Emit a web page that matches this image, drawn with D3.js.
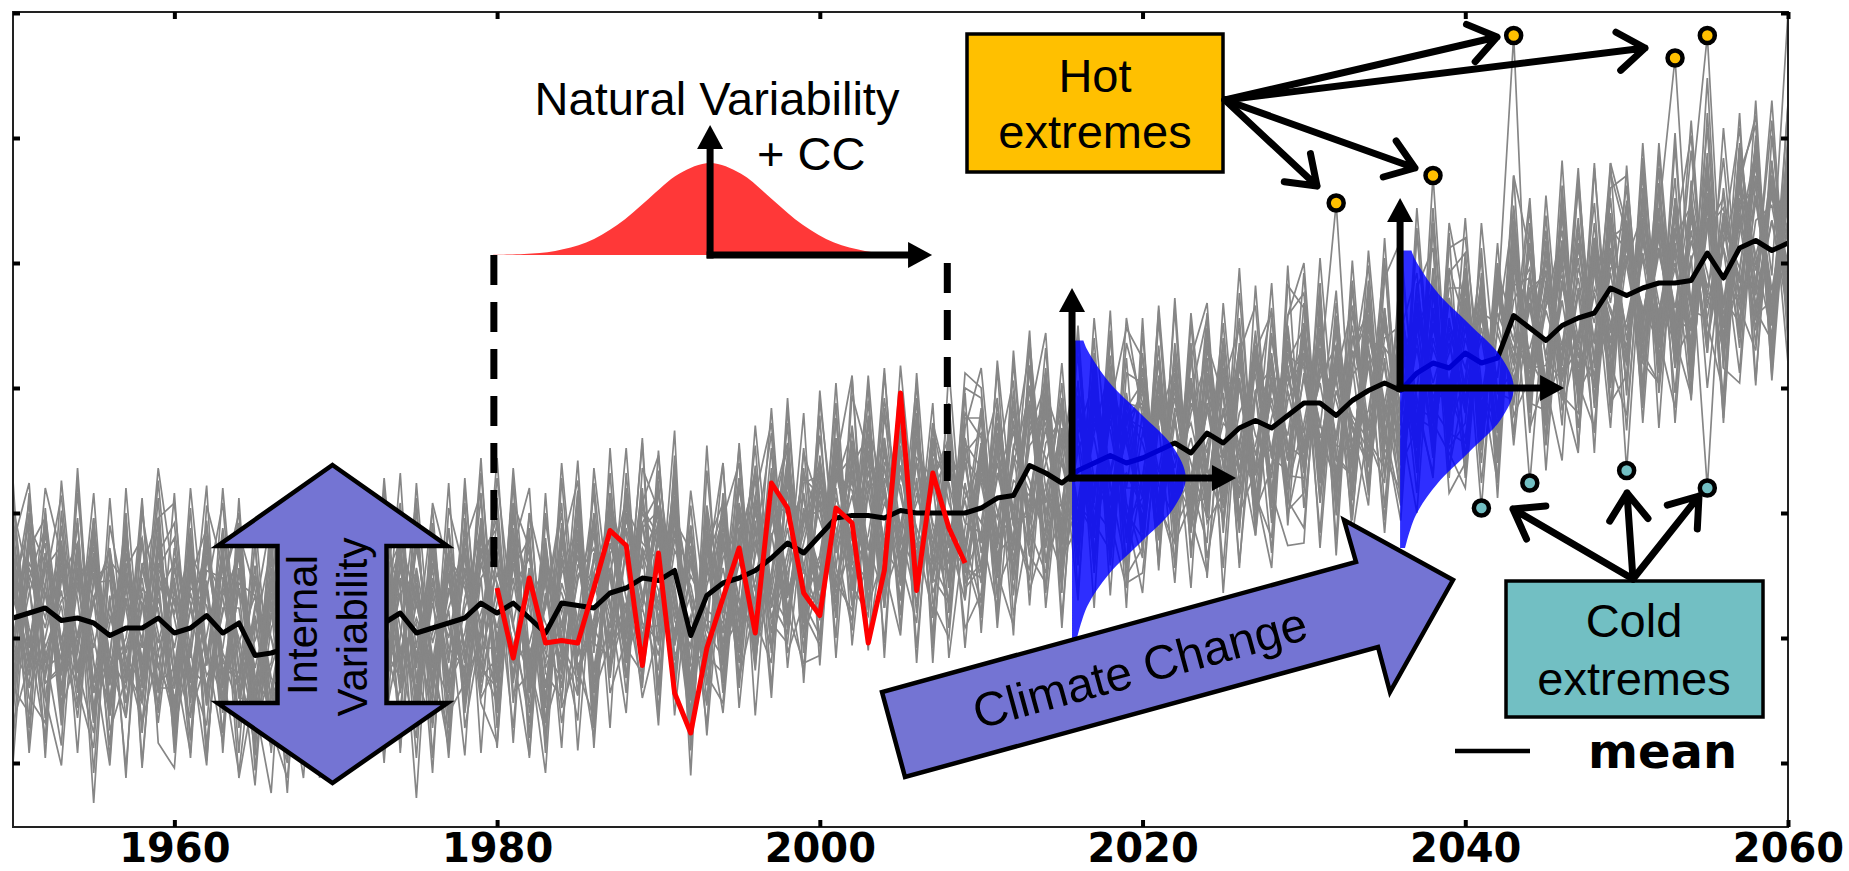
<!DOCTYPE html>
<html>
<head>
<meta charset="utf-8">
<script src="https://cdn.jsdelivr.net/npm/d3@7"></script>
<style>
  body { margin: 0; background: #fff; }
  svg { display: block; }
</style>
</head>
<body>
<script>
// years shown on the time axis
const years = d3.range(1950, 2061);
const xTicks = [1960, 1980, 2000, 2020, 2040, 2060];
const yTicks = [-1.5, -1, -0.5, 0, 0.5, 1, 1.5];

// ensemble mean (black line), one value per year 1950..2060
const ensembleMean = [
  -0.92,-0.90,-0.88,-0.93,-0.92,-0.94,-0.99,-0.96,-0.96,-0.92,
  -0.98,-0.96,-0.91,-0.98,-0.94,-1.07,-1.06,-1.04,-1.02,-1.00,
  -0.97,-0.98,-0.95,-0.94,-0.90,-0.98,-0.96,-0.94,-0.92,-0.86,
  -0.90,-0.86,-0.92,-0.98,-0.86,-0.87,-0.88,-0.82,-0.80,-0.76,
  -0.77,-0.73,-0.99,-0.83,-0.78,-0.76,-0.73,-0.68,-0.62,-0.66,
  -0.59,-0.52,-0.51,-0.51,-0.52,-0.49,-0.50,-0.50,-0.50,-0.50,
  -0.48,-0.44,-0.43,-0.31,-0.34,-0.38,-0.33,-0.30,-0.27,-0.30,
  -0.28,-0.25,-0.22,-0.26,-0.18,-0.22,-0.16,-0.13,-0.16,-0.11,
  -0.06,-0.06,-0.11,-0.05,-0.01,0.02,-0.01,0.06,0.10,0.08,
  0.14,0.10,0.12,0.29,0.24,0.19,0.25,0.28,0.30,0.40,
  0.37,0.40,0.42,0.42,0.43,0.54,0.44,0.56,0.59,0.55,0.58
];

// one realisation highlighted in red, 1980..2009
const obsYears = d3.range(1980, 2010);
const observed = [
  -0.80,-1.08,-0.76,-1.02,-1.01,-1.02,-0.80,-0.57,-0.63,-1.11,
  -0.66,-1.22,-1.38,-1.04,-0.84,-0.64,-0.98,-0.38,-0.48,-0.82,
  -0.91,-0.48,-0.54,-1.02,-0.73,-0.02,-0.81,-0.34,-0.56,-0.70
];

// departures of each ensemble member from the mean, in hundredths, 1950..2060
const memberDepartures = [
  [12,-25,30,-8,18,-35,5,22,-15,40, -20,8,-32,15,26,-10,-38,12,33,-5, 20,-28,10,36,-14,-22,18,-6,28,-30, 4,25,-18,-40,15,30,-12,8,-26,22, 35,-15,-5,24,-33,12,40,-20,6,-28, 18,-8,30,-24,10,-36,22,14,-18,5, -30,26,-12,38,-6,-25,15,33,-20,10, 28,-35,8,-15,42,-10,20,-30,4,25, -18,12,85,-22,30,-8,-40,16,28,-12, 20,-30,35,-5,-22,14,38,-26,10,-16, 24,-12,30,-34,8,18,-25,40,-10,22,-8],
  [-30,15,-8,28,-20,10,35,-12,-38,20, 8,32,-15,-26,14,-5,22,40,-18,-30, -12,24,-36,18,6,-28,30,-10,-20,15, 38,-22,12,-8,-30,25,-16,34,10,-25, -6,20,-40,15,28,-18,-4,26,-32,12, 30,-14,8,-28,40,6,-22,18,-10,-35, 22,-5,-30,14,26,-20,10,-38,32,8, -16,36,-24,20,-8,30,-35,12,24,-18, 10,-28,16,38,-14,22,-6,-30,75,-20, 26,-10,-34,18,8,-24,32,-16,20,-38, 14,30,-20,6,-28,35,-12,18,-36,25,10],
  [22,-10,-36,16,30,-24,8,-18,26,-6, -34,20,12,-28,36,-14,-4,30,-22,18, 10,-32,26,-8,-20,40,-16,6,24,-30, -18,14,32,-26,8,-12,36,-34,16,4, 28,-20,-10,34,-28,18,-38,22,12,-16, -8,26,-30,10,20,-22,34,-6,-36,28, 16,-18,38,-24,4,30,-14,-28,20,-10, 32,-26,14,-4,-34,24,18,-20,36,-12, -22,10,28,-36,16,-8,30,-18,-26,40, 12,-24,20,112,-30,18,-10,34,-20,6, -28,36,-14,22,-32,10,28,-18,38,-24,16],
  [-15,32,-22,6,-40,18,28,-10,14,-30, 26,-12,36,-20,-8,24,-34,16,6,28, -24,18,-6,-36,30,12,-20,38,-14,-4, 20,-30,8,26,-18,-36,14,30,-24,10, -12,36,-26,4,22,-8,-30,16,38,-20, 14,-34,20,32,-12,-26,8,-16,30,-22, -28,10,-18,24,-36,16,34,-6,-24,20, 6,-20,34,-30,12,-14,28,-36,16,-8, 30,-16,-24,14,36,-28,-10,22,-32,18, -6,26,-30,12,20,-18,34,-24,8,-36, 22,-12,28,90,-14,30,-26,12,-20,34,-16],
  [35,-18,10,-28,24,-6,-32,16,-20,30, -10,-36,22,14,-24,32,6,-18,-30,20, 28,-8,-22,34,-16,4,-38,24,12,-26, -30,22,-14,10,36,-20,-8,-28,32,14, 8,-26,30,-18,-6,40,-22,10,-34,24, -20,12,-36,26,-10,18,-28,34,4,-14, 36,-24,6,-12,30,-34,20,-8,-18,28, -14,18,-28,38,-22,8,-6,30,-36,12, 24,-32,10,-20,26,-14,36,-26,6,-10, -34,20,14,-28,8,32,-18,-8,28,-22, 16,-30,22,-10,34,87,-20,14,-28,26,-12],
  [-22,8,26,-34,12,30,-16,-4,36,-20, 14,-28,-8,32,-18,6,24,-36,20,10, -36,22,14,-10,-26,34,-6,18,-30,26, 12,-16,-34,28,-4,20,-26,8,36,-18, -24,30,12,-30,18,-14,26,-36,-8,32, 6,-20,28,-12,-32,24,10,-26,18,-4, -10,34,-26,8,20,-30,-12,26,-34,16, 26,-8,-18,30,-28,14,-36,22,8,-24, -30,18,6,-24,34,-12,20,-28,14,-6, 18,-58,26,-14,30,-22,10,-32,24,-10, -20,12,-34,28,-8,18,-30,6,36,-26,8],
  [18,-30,-12,24,-8,36,-26,10,-4,-34, 30,10,-24,-6,34,-28,16,-14,26,-36, 6,-18,32,-28,20,-12,24,-34,8,30, -26,36,4,-20,-12,28,-34,20,-10,26, 14,-8,-34,20,32,-26,6,28,-18,-6, -32,18,10,-22,28,-8,-36,24,12,-18, 24,-14,30,-28,-6,20,-24,12,36,-30, -8,28,-20,6,-32,34,-12,-26,20,14, 16,-22,36,-10,-28,18,26,-34,10,-14, 28,-12,-26,16,-62,22,-8,30,-18,12, -24,34,-16,8,-30,20,-12,28,-6,-34,18],
  [-8,28,-20,12,-34,16,22,-30,8,26, -18,24,-36,10,6,-22,30,-8,-28,16, 34,-14,-4,22,-32,18,-24,12,28,-20, 8,-28,20,-36,26,-6,14,-22,-12,34, -20,12,28,-14,-30,36,-8,18,-26,4, 26,-30,-12,20,14,-36,28,-4,-18,30, -14,20,-32,12,28,-10,-22,34,-6,-26, 18,-36,24,-12,8,26,-28,10,-20,36, -26,14,-8,30,-20,-34,12,24,-14,6, 32,-18,10,-28,20,-6,34,-24,-10,26, -70,24,-18,32,-12,-26,20,-8,30,-20,10],
  [26,-14,34,-26,-6,20,-32,30,-18,12, -30,16,4,-22,28,-34,10,22,-14,-4, 18,-26,30,-16,8,-36,26,-2,-22,34, -12,20,-30,16,-28,10,32,-18,24,-8, 30,-34,6,18,-12,24,-20,-6,34,-28, -16,28,-22,-8,32,-14,4,20,-30,22, 10,-28,16,-36,12,26,-18,-10,28,-20, -32,12,30,-18,-4,20,-26,34,-12,-22, 20,-8,-30,26,-16,8,-36,18,30,-24, -10,32,-20,6,24,-34,16,-12,-28,20, 28,-16,24,-30,10,-94,26,-14,18,-28,6],
  [-36,20,6,-16,30,-28,12,-22,24,-10, 22,-30,28,-12,-20,16,-34,26,8,-24, -16,30,-20,-8,24,-14,34,-28,4,18, 28,-10,-24,32,-16,-30,20,6,-36,22, -26,16,-18,36,-10,-22,30,-14,20,-32, 20,-4,-26,14,-36,30,-10,-20,26,8, -6,30,-20,-14,34,-24,8,22,-32,18, 12,-24,36,-26,16,-18,-8,28,-30,20, -28,30,-12,-20,24,6,-26,36,-16,-8, 22,-26,28,-10,-18,36,-22,12,-30,16, -14,26,-32,18,30,-20,12,-24,36,-10,92],
  [10,36,-24,-14,20,-10,28,-36,16,4, -26,-10,32,-18,22,-30,-6,14,36,-20, 24,-6,-30,16,-22,26,-12,-30,20,-8, -34,18,10,-12,30,-26,-4,24,-20,28, 18,-30,24,-6,-16,30,-36,8,26,-14, -28,14,34,-20,6,-12,20,-32,-10,24, 30,-16,-8,26,-30,10,-20,30,-14,-4, -20,30,-14,-24,34,-6,16,-20,28,-30, 12,-20,24,-16,-8,30,-22,14,-34,28, -18,10,-30,26,-12,-20,30,-8,22,-26, 30,-22,12,-18,26,-8,-30,20,-12,24,-20],
  [30,-6,-28,20,-22,8,34,-16,-30,18, -6,26,-20,34,-30,12,20,-26,-12,32, -20,12,22,-34,14,-8,-28,30,-16,10, 24,-32,16,4,-22,34,-14,-26,28,-6, -30,8,20,-28,34,-16,12,-24,-4,30, 16,-24,-6,30,-18,26,-32,10,22,-28, -22,8,28,-18,-10,34,-28,16,-6,24, 20,-14,-30,24,-16,-4,32,-22,12,-28, -8,26,-18,-30,20,14,-24,-6,32,-20, 14,-22,34,-26,10,-16,-28,20,-4,30, -18,28,-8,-24,20,-34,14,26,-22,12,-28],
  [-12,-28,16,30,-20,26,-8,-24,34,-14, 20,-16,-28,8,30,-8,-22,34,-26,6, 30,-24,8,-14,28,-30,16,-20,-6,26, -20,10,-26,22,4,-16,30,-32,18,-12, 24,-14,-30,8,26,-34,18,-10,30,-20, -10,32,-18,-26,22,10,-30,28,-14,6, 18,-26,12,30,-22,-8,26,-18,-30,14, -28,20,-6,12,-24,30,-16,-10,26,-18, 26,-30,18,-6,-20,28,-14,32,-24,10, -24,18,-8,30,-26,12,-16,24,-34,8, 12,-26,36,-14,-20,24,-8,-30,16,-24,30],
  [24,10,-30,-18,28,-34,14,20,-12,-26, -14,30,10,-32,16,24,-18,-4,28,-22, 8,-34,18,26,-20,6,-14,28,-32,16, -6,22,-18,30,-34,12,24,-10,-16,32, -16,26,-12,-22,10,20,-28,34,-20,8, 28,-12,22,-34,16,-6,30,-18,-24,20, -24,22,-34,18,6,-20,30,-12,24,-28, 10,-8,24,-32,28,-22,6,18,-26,30, -12,22,-28,10,16,-26,30,-20,20,-30, 6,-14,24,-20,34,-8,-22,28,-12,-16, 24,-10,18,-28,32,-14,22,-36,8,18,-20],
  [-26,18,-4,32,-28,10,-18,26,-30,22, 12,-22,24,-10,-34,20,6,-28,18,28, -28,16,-12,30,-6,-24,20,-16,32,-12, 16,-8,28,-22,18,-28,-6,34,-20,12, -4,-24,32,-10,-18,26,-14,22,-30,18, -22,20,-16,8,-26,32,-20,14,30,-12, 14,-32,20,-6,-28,22,-14,-24,30,8, -24,16,-10,28,-14,-30,24,-6,-16,22, 30,-14,14,-26,22,-10,-28,26,-8,16, -20,28,-14,-22,16,26,-30,10,18,-24, -10,20,-26,14,-20,30,-18,10,-32,28,-14],
  [14,-20,22,-12,-26,34,-14,-8,20,-28, -22,14,-16,26,-10,-30,28,-12,16,-18, 12,28,-20,-26,18,-10,30,-24,-12,22, -28,6,24,-14,-8,20,-30,16,22,-24, 20,-18,-4,26,-20,6,-12,30,-22,16, -14,24,-30,18,-20,14,-6,-24,32,-16, 26,-20,16,-10,-24,28,-30,20,10,-22, -16,26,-24,16,30,-20,-12,24,-28,6, 16,-24,20,-12,-30,24,-8,28,-18,-26, 30,-16,-6,22,-24,14,20,-30,16,-8, -26,18,-12,26,-18,10,32,-20,-6,22,-18],
  [-20,26,-16,8,14,-24,30,-12,-22,10, 28,-20,14,-30,20,2,-16,24,-32,14, -8,20,-30,10,26,-18,-2,20,-26,-14, 30,-24,-10,20,-26,16,10,-20,-6,-30, 10,22,-20,-8,30,-10,-24,14,20,-26, 22,-10,14,-26,12,-24,20,-10,-20,30, -18,14,-22,32,-16,8,-26,18,-8,22, 30,-20,10,-26,18,-8,-22,30,-12,16, -20,26,-10,20,-24,14,8,-28,22,-16, 16,-28,18,-16,-8,20,-14,16,-26,24, 18,-8,-24,20,-12,28,-24,16,22,-30,24],
  [8,-16,-26,22,-14,28,-30,18,10,-20, -28,8,26,-14,-22,30,-10,-20,24,-8, 18,-30,16,-20,8,24,-26,14,-18,28, -10,26,-28,14,20,-24,-12,28,-26,8, 26,-28,16,-20,6,-30,24,-18,10,22, -26,8,-10,24,-28,18,-14,22,-12,-22, 12,-8,26,-22,18,-16,24,-28,14,-10, -12,22,-26,-10,24,-16,30,-14,18,-24, 24,-18,26,-28,10,-20,16,-14,-22,28, -14,22,-20,28,-16,-10,24,-20,30,-18, 26,-20,14,-22,28,-16,-10,24,-26,12,-22],
  [-10,14,32,-22,20,-16,-26,22,-14,26, 6,-26,18,22,-28,14,-24,10,-20,22, -14,8,26,-22,-16,20,-20,26,14,-26, 22,-18,14,-28,24,-10,20,-14,30,-20, -18,24,-22,12,-24,16,28,-24,-12,14, 10,-28,18,-14,26,-18,12,-28,16,20, -14,26,-10,-20,24,-22,16,10,-26,18, 22,-12,18,-20,-26,12,-18,22,-10,28, -16,8,-22,18,28,-16,22,-24,16,-22, 10,-20,26,-30,14,-24,18,-10,24,-14, -22,14,-20,16,-26,22,-14,-18,26,-16,20],
  [20,-22,6,-30,16,24,-20,12,-28,8, -16,22,-30,18,-6,-24,14,28,-16,-26, 26,-10,-24,18,28,-28,10,-22,18,-18, -14,30,-20,-6,12,24,-24,10,-30,20, 28,-6,-26,22,-14,-20,16,-30,24,-8, -20,16,24,-30,20,-10,-24,14,26,-28, 20,-22,-16,24,-12,18,-20,28,-24,12, -26,14,20,-28,10,-22,26,-18,-8,24, 14,-28,22,-8,-24,26,-18,10,-30,20, -22,14,-28,20,-14,28,-20,-12,20,-28, 20,-14,28,-26,16,-22,24,-12,-20,30,-26],
  [40,-12,18,-38,26,-72,34,-30,10,-42, 18,-44,30,-8,-26,36,-34,20,-14,58, -40,26,-18,44,-30,12,-22,38,-36,20, 34,-24,42,-16,-38,24,-10,40,-28,-12, -36,42,-20,30,-44,16,36,-26,-40,28, 24,-38,36,-22,60,-30,14,-42,32,-18, -42,24,-30,40,-20,-36,28,-14,40,-32, 36,-22,-40,26,-30,42,-18,36,-38,20, -34,40,-26,14,-42,30,-36,66,-20,32, 26,-40,32,-36,22,-30,44,-24,36,-40, 30,-44,38,-20,64,-36,26,-40,34,-30,40],
  [-38,30,-44,20,-28,40,-16,36,-42,26, 44,-26,12,-40,38,-20,42,-36,30,-14, 55,-42,36,-30,40,-18,-38,28,-12,42, -40,16,-30,36,-22,44,-34,-20,38,-30, 36,-28,40,-36,20,-40,-14,60,-30,34, -42,32,-16,38,-36,24,-40,30,-26,40, 28,-40,34,-18,42,-30,-22,36,-44,26, -30,42,-34,-16,40,-26,34,-42,24,-36, 40,-20,34,-40,28,-24,38,-30,62,-26, -36,30,-42,24,-34,40,-28,-38,30,-22, 38,-30,-40,34,-26,70,-36,30,-42,36,-30],
  [6,44,-30,-20,38,-36,-8,40,-24,32, -40,36,-20,28,-62,-12,34,-30,-40,24, 38,-20,-40,28,12,-66,32,-26,36,-38, -20,40,28,-42,32,-16,38,-30,-8,36, -42,20,34,-24,-36,40,-20,-42,32,-14, 40,-26,-38,30,-12,38,-30,36,-40,12, -26,38,-12,-42,30,-18,58,-36,18,-40, 42,-30,28,-38,-10,36,-40,26,-32,34, -24,36,-40,24,30,-38,14,-36,38,-30, 34,-26,38,-40,-20,32,-16,60,-36,28, -38,40,-24,30,-40,20,-32,42,-28,-36,34],
  [-28,-40,38,-10,-36,42,-32,24,36,-38, 34,-8,-60,40,-18,-36,38,-22,42,-34, -30,40,-10,-38,36,-28,42,-40,26,-22, 62,-36,-22,38,-40,30,-42,34,-24,-38, 22,-40,36,-42,26,-30,40,-18,-36,42, -34,40,-28,-40,30,-42,36,-20,-34,38, 36,-30,42,-26,-40,32,-36,24,-30,42, -38,26,-32,40,-36,-20,64,-34,30,-26, 32,-40,22,-34,40,-30,-40,28,-24,38, -42,36,-24,38,-30,-28,66,-36,26,-34, 36,-26,40,-34,28,-40,36,-30,40,-38,30],
  [45,-10,-52,30,8,-40,55,-22,-5,38, -48,20,35,-15,-60,10,42,-30,25,-8, 50,-35,-12,28,-45,60,-20,5,-55,32, -25,48,-38,12,40,-58,22,-6,35,-42, 18,-50,44,-28,-8,52,-36,30,-15,-48, 58,-20,-42,36,10,-30,46,-54,20,-12, -38,55,-10,-46,32,16,-52,40,-25,48, 22,-44,58,-30,-12,40,-56,28,46,-34, -50,30,-18,48,-36,10,-45,56,-20,38, 40,-35,25,-10,52,-42,18,-30,60,-46, -32,50,-44,20,58,-36,12,-50,42,-28,55],
  [-50,35,18,-42,60,-28,-8,44,-56,20, 38,-45,10,52,-30,-18,48,-40,58,-25, -42,15,55,-34,22,-50,38,-14,46,-60, 30,-20,-55,45,-10,36,-48,58,-30,12, -58,40,-25,10,48,-44,20,-56,36,-6, 25,-48,55,-36,-14,42,-60,30,-20,50, 44,-30,-52,20,56,-40,14,-28,50,-45, -36,52,-20,44,-58,30,-8,-46,38,-18, 52,-38,45,-24,12,-55,36,-40,22,-32, -28,46,-50,35,-42,58,-22,10,-48,40, 48,-26,-40,55,-34,22,-52,40,-18,60,-36],
  [30,52,-36,-58,24,10,-44,40,-20,55, -12,-50,44,26,-38,55,-22,-46,32,10, -56,40,-28,58,-18,-42,50,22,-34,-10, 46,-40,20,-30,56,-14,-52,36,10,-48, -20,56,-46,34,-30,-6,50,-38,54,-24, -44,18,-10,52,-56,38,-28,12,-46,34, 56,-16,38,-50,-24,48,-36,58,-12,-42, -8,36,-50,24,46,-60,20,-30,-44,52, 38,-58,28,-10,-46,42,60,-26,34,-50, -44,20,-36,56,30,-18,-54,38,-12,46, 24,-48,52,-30,-18,40,-58,26,50,-42,20],
  [-42,-20,48,26,-54,38,-10,-36,50,-28, 56,-34,-18,42,-10,-52,30,60,-40,-15, 28,-54,42,-6,-38,24,-58,46,18,-40, -52,34,10,-44,22,50,-30,-12,56,-36, 44,-12,-38,60,-40,28,-20,44,-50,16, -30,54,-36,-20,48,-8,30,-50,58,-24, -10,-44,58,-32,40,-54,20,-16,34,-58, 50,-28,12,-54,36,18,-42,54,-26,10, -24,48,-56,36,-20,-40,52,-14,-44,58, 18,-32,46,-48,40,-26,-12,52,-38,24, -54,34,-18,42,-46,56,-28,-10,38,-50,44],
  [55,-46,22,-12,40,-60,30,18,-38,-14, -36,48,-52,20,44,-20,-56,36,-6,50, 10,-28,-46,54,-24,36,-12,-50,40,-32, 38,-56,42,20,-48,-6,46,-40,-20,56, -46,28,16,-52,36,-24,58,-14,-32,40, 12,-40,48,24,-50,36,-18,44,-58,-6, 40,-52,18,46,-36,-12,54,-44,26,-20, -54,20,-38,56,-16,48,-34,-20,58,-44, 28,-10,50,-46,18,-60,24,40,-30,14, -48,56,-14,-34,42,-52,28,-44,18,-56, 36,-18,46,-56,26,-40,60,-24,-44,30,-12],
  [-14,40,-60,44,-30,24,-50,56,-22,48, -40,-6,52,-48,36,26,-12,-44,56,-30, 46,-16,34,-52,-30,50,-40,20,-24,58, -38,54,-14,-56,30,-36,50,-22,40,-10, 24,-44,58,-8,-52,20,-40,36,-18,56, -52,30,-20,46,-36,58,-10,-40,28,-54, 18,40,-48,-22,50,-30,36,-58,48,-16, -40,58,-24,30,-50,-10,44,-36,-16,40, 56,-32,16,-48,28,-20,-52,34,46,-40, -12,42,-56,30,-26,50,-34,-8,44,-50, 52,-38,20,-44,36,-54,16,48,-30,-20,38],
  [36,-56,10,50,-20,-44,28,-60,46,2, -22,40,-58,32,-42,18,54,-20,-48,36, -6,52,-44,-18,56,-36,14,-54,30,44, -46,22,52,-36,-24,46,-56,30,-4,-44, 52,-36,8,-44,26,46,-58,20,40,-34, -18,46,-52,10,32,-48,56,-26,-36,48, -50,30,-6,54,-48,22,-38,44,-56,36, 30,-46,40,-12,-44,56,-22,12,-50,60, -42,20,-36,56,-30,46,-12,-56,28,-20, 54,-26,38,-52,16,-40,56,-30,-18,50, -40,58,-30,12,-48,36,-20,54,-56,28,-48],
  [-58,26,36,-30,50,-16,-52,34,-8,60, 20,-52,38,-26,14,-40,58,-10,-54,28, -34,58,-26,40,-54,16,-30,56,-44,-12, 54,-8,-42,26,-58,40,-18,48,-36,22, -10,34,-56,50,-26,-16,42,-52,28,-40, 48,-56,26,-38,58,-20,-44,36,10,-46, -34,16,46,-56,28,-44,52,-24,-38,58, 16,-34,54,-42,22,-50,30,46,-26,-52, -56,44,-32,12,50,-36,18,-48,56,-10, 34,-48,12,42,-30,24,-40,56,-22,36, -26,46,-58,32,-10,50,-36,-54,24,-40,56],
  [16,-34,-46,56,-12,42,-38,-20,52,-50, -54,30,-36,58,-20,44,-30,-52,10,40, 54,-46,20,-56,34,-6,48,-36,-26,52, -16,40,-48,56,-42,-20,34,-54,46,-28, 40,-58,30,-14,48,-52,10,50,-44,-20, -40,22,56,-50,-6,40,-54,20,-28,56, 48,-36,-20,40,-54,12,46,-30,58,-48, -46,10,-56,38,52,-34,18,-40,44,-14, 20,-52,40,-34,56,-18,-46,22,-38,54, -50,34,-24,56,-40,-14,48,-52,30,-6, 44,-54,30,-16,52,-28,-46,36,-58,46,-24],
  [44,12,-54,38,-28,-50,44,8,-30,34, -32,56,-14,-44,50,-30,20,-58,40,-20, 36,-20,50,-40,-10,54,-52,28,-38,10, -54,30,-24,48,-14,-46,56,-6,-50,44, 28,-46,52,-32,-48,30,-8,-36,58,-26, 54,-10,-46,40,-30,-14,52,-60,38,-30, -24,52,-40,14,36,-58,28,-42,20,54, 40,-20,-46,52,-28,36,-54,10,48,-38, -36,58,-16,-30,44,-50,32,-10,-46,48, 46,-8,-50,38,-16,44,-26,-54,58,-30, -48,24,-36,60,-38,14,-56,30,46,-52,28],
  [-30,48,-18,-50,56,-40,16,-56,24,40, 52,-18,-44,36,-52,46,-40,30,-30,-48, -50,32,-52,16,44,-20,36,-48,56,-36, 12,-50,36,-48,50,-26,-44,40,-16,54, -54,46,-34,20,-40,54,-32,-10,48,-52, 32,-34,18,-54,44,-26,40,-36,-50,26, -44,22,-56,50,-18,40,-48,32,-26,-50, 56,-48,36,-26,-56,24,40,-46,20,-40, -14,34,-50,46,-40,58,-30,-22,54,-44, 40,-30,30,-18,48,-34,52,-26,-46,14, -36,52,-22,-50,40,-18,48,-34,56,-46,36],
  [26,-52,40,-36,-14,52,-30,46,-54,16, -44,36,-54,20,40,-46,28,-36,50,-56, 18,-40,28,48,-56,40,-20,-42,52,-24, -36,50,-56,34,-20,58,-40,16,-42,30, 50,-30,44,-56,16,-40,30,54,-28,-44, -48,40,-30,56,-20,-50,34,-14,44,-34, 26,-48,54,-36,-44,30,-20,50,-40,20, -30,56,-40,-20,48,-36,54,-28,-56,40, 44,-26,36,-54,-14,50,-42,58,-24,-34, -54,24,-40,44,-28,36,-14,40,-56,50, 28,-40,56,-22,-46,34,-52,40,-18,52,-40]
];

// extremes marked with dots
const hotYears = [2032, 2038, 2043, 2053, 2055];
const hotValues = [0.74, 0.85, 1.41, 1.32, 1.41];
const coldYears = [2041, 2044, 2050, 2055];
const coldValues = [-0.48, -0.38, -0.33, -0.40];

// bell shapes (relative height against offset in standard deviations)
const bellSd = [-3.5, -3, -2.5, -2, -1.5, -1, -0.5, 0, 0.5, 1, 1.5, 2, 2.5, 3, 3.5];
const bellShape = [0.002, 0.011, 0.044, 0.135, 0.325, 0.607, 0.882, 1, 0.882, 0.607, 0.325, 0.135, 0.044, 0.011, 0.002];
const sideSd = [-2.5, -2, -1.5, -1, -0.5, 0, 0.5, 1, 1.5, 2, 2.15];
const sideShape = [0.044, 0.135, 0.325, 0.607, 0.882, 1, 0.882, 0.607, 0.325, 0.135, 0.1];

const W = 1849, H = 871;
const svg = d3.select("body").append("svg").attr("width", W).attr("height", H);
svg.append("rect").attr("width", W).attr("height", H).attr("fill", "#fff");

const x = d3.scaleLinear().domain([1950, 2060]).range([13, 1788]);
const y = d3.scaleLinear().domain([-1.756, 1.504]).range([827, 12]);

svg.append("clipPath").attr("id", "plot")
  .append("rect").attr("x", 13).attr("y", 12).attr("width", 1775).attr("height", 815);

const lineYear = d3.line().x((d, i) => x(years[i])).y(d => y(d));

// ensemble members
const members = svg.append("g").attr("clip-path", "url(#plot)");
memberDepartures.forEach(dep => {
  const vals = dep.map((d, i) => ensembleMean[i] + d / 100);
  members.append("path")
    .attr("d", lineYear(vals))
    .attr("fill", "none")
    .attr("stroke", "#868686")
    .attr("stroke-width", 1.7);
});

// ensemble mean
svg.append("path")
  .attr("d", lineYear(ensembleMean))
  .attr("fill", "none")
  .attr("stroke", "#000")
  .attr("stroke-width", 5)
  .attr("stroke-linejoin", "round");

// red realisation
svg.append("path")
  .attr("d", d3.line().x((d, i) => x(obsYears[i])).y(d => y(d))(observed))
  .attr("fill", "none")
  .attr("stroke", "#ff0000")
  .attr("stroke-width", 5)
  .attr("stroke-linejoin", "round");

const ann = svg.append("g");

// window of the red realisation
[[1979.8, 0.532, -0.78], [2007.9, 0.50, -0.43]].forEach(([yr, top, bot]) => {
  ann.append("line")
    .attr("x1", x(yr)).attr("x2", x(yr))
    .attr("y1", y(top)).attr("y2", y(bot))
    .attr("stroke", "#000").attr("stroke-width", 7)
    .attr("stroke-dasharray", "30 17");
});

function solidArrow(x1, y1, x2, y2) {
  const ang = Math.atan2(y2 - y1, x2 - x1);
  const hl = 24, hw = 13;
  const bx = x2 - hl * Math.cos(ang), by = y2 - hl * Math.sin(ang);
  ann.append("line")
    .attr("x1", x1).attr("y1", y1).attr("x2", bx).attr("y2", by)
    .attr("stroke", "#000").attr("stroke-width", 7).attr("stroke-linecap", "square");
  const px = -Math.sin(ang), py = Math.cos(ang);
  ann.append("polygon")
    .attr("points", [[x2, y2], [bx + px * hw, by + py * hw], [bx - px * hw, by - py * hw]].map(p => p.join(",")).join(" "))
    .attr("fill", "#000");
}

function openArrow(x1, y1, x2, y2) {
  const ang = Math.atan2(y2 - y1, x2 - x1);
  const L = 33, a = 0.62;
  ann.append("path")
    .attr("d", `M${x1},${y1}L${x2},${y2}` +
      `M${x2 - L * Math.cos(ang - a)},${y2 - L * Math.sin(ang - a)}L${x2},${y2}L${x2 - L * Math.cos(ang + a)},${y2 - L * Math.sin(ang + a)}`)
    .attr("fill", "none").attr("stroke", "#000").attr("stroke-width", 7)
    .attr("stroke-linecap", "round").attr("stroke-linejoin", "round");
}

// red bell: natural variability + CC
const redYear = 1993.2, redBase = 0.532, redSdYears = 3.84, redPeak = 0.368;
ann.append("path")
  .attr("d", d3.area()
    .curve(d3.curveCatmullRom)
    .x((d, i) => x(redYear + bellSd[i] * redSdYears))
    .y0(y(redBase))
    .y1((d) => y(redBase + d * redPeak))(bellShape))
  .attr("fill", "#ff3838");
solidArrow(x(redYear), y(redBase), x(redYear), y(redBase) - 130);
solidArrow(x(redYear), y(redBase), x(redYear) + 222, y(redBase));

// blue sideways bells
[[2015.63, -0.36], [2035.96, 0.0]].forEach(([yr, centre]) => {
  const sdVal = 0.256, peakYears = 7.05;
  ann.append("path")
    .attr("d", d3.area()
      .curve(d3.curveCatmullRom)
      .y((d, i) => y(centre + sideSd[i] * sdVal))
      .x0(x(yr))
      .x1(d => x(yr + d * peakYears))(sideShape))
    .attr("fill", "#0000ff").attr("fill-opacity", 0.82);
  solidArrow(x(yr), y(centre), x(yr), y(centre) - 190);
  solidArrow(x(yr), y(centre), x(yr) + 164, y(centre));
});

const sansText = (g) => g.attr("font-family", "'Liberation Sans', Arial, sans-serif").attr("fill", "#000");

ann.append("text").call(sansText)
  .attr("x", 717).attr("y", 115).attr("text-anchor", "middle")
  .attr("font-size", 47).text("Natural Variability");
ann.append("text").call(sansText)
  .attr("x", 757).attr("y", 170)
  .attr("font-size", 47).text("+ CC");

// internal variability double arrow
{
  const cx = x(1969.8), cy = y(-0.944);
  const pts = [[0, -159], [115, -78], [54, -78], [54, 79], [115, 79], [0, 159],
    [-115, 79], [-55, 79], [-55, -78], [-115, -78]];
  ann.append("polygon")
    .attr("points", pts.map(p => [cx + p[0], cy + p[1]].join(",")).join(" "))
    .attr("fill", "#7474d3").attr("stroke", "#000").attr("stroke-width", 4.5)
    .attr("stroke-linejoin", "miter");
  ann.append("text").call(sansText)
    .attr("transform", `translate(${cx - 16},${cy + 1}) rotate(-90)`)
    .attr("text-anchor", "middle").attr("font-size", 42).text("Internal");
  ann.append("text").call(sansText)
    .attr("transform", `translate(${cx + 34},${cy + 3}) rotate(-90)`)
    .attr("text-anchor", "middle").attr("font-size", 42).text("Variability");
}

// climate change arrow
{
  const pts = [[905, 777], [882, 692], [1356, 562], [1344, 520], [1453, 580], [1390, 692], [1378, 647]];
  ann.append("polygon")
    .attr("points", pts.map(p => p.join(",")).join(" "))
    .attr("fill", "#7474d3").attr("stroke", "#000").attr("stroke-width", 4.5);
  ann.append("text").call(sansText)
    .attr("transform", "translate(1140,668) rotate(-15.3)")
    .attr("text-anchor", "middle").attr("dominant-baseline", "central")
    .attr("font-size", 48).text("Climate Change");
}

// hot extremes box and arrows
ann.append("rect").attr("x", 967).attr("y", 34).attr("width", 256).attr("height", 138)
  .attr("fill", "#ffc000").attr("stroke", "#000").attr("stroke-width", 3.5);
ann.append("text").call(sansText).attr("x", 1095).attr("y", 92)
  .attr("text-anchor", "middle").attr("font-size", 47).text("Hot");
ann.append("text").call(sansText).attr("x", 1095).attr("y", 148)
  .attr("text-anchor", "middle").attr("font-size", 47).text("extremes");
[[1317, 186], [1415, 168], [1497, 37], [1645, 48]].forEach(t => openArrow(1225, 100, t[0], t[1]));

// cold extremes box and arrows
ann.append("rect").attr("x", 1506).attr("y", 581).attr("width", 257).attr("height", 136)
  .attr("fill", "#72bfc3").attr("stroke", "#000").attr("stroke-width", 3.5);
ann.append("text").call(sansText).attr("x", 1634).attr("y", 637)
  .attr("text-anchor", "middle").attr("font-size", 47).text("Cold");
ann.append("text").call(sansText).attr("x", 1634).attr("y", 695)
  .attr("text-anchor", "middle").attr("font-size", 47).text("extremes");
[[1513, 509], [1627, 493], [1699, 496]].forEach(t => openArrow(1633, 579, t[0], t[1]));

// extreme dots
svg.append("g").selectAll("circle").data(hotYears).join("circle")
  .attr("cx", d => x(d)).attr("cy", (d, i) => y(hotValues[i])).attr("r", 7.5)
  .attr("fill", "#ffc000").attr("stroke", "#000").attr("stroke-width", 4.5);
svg.append("g").selectAll("circle").data(coldYears).join("circle")
  .attr("cx", d => x(d)).attr("cy", (d, i) => y(coldValues[i])).attr("r", 7.5)
  .attr("fill", "#72bfc3").attr("stroke", "#000").attr("stroke-width", 4.5);

// legend
svg.append("line").attr("x1", 1455).attr("x2", 1530).attr("y1", 751).attr("y2", 751)
  .attr("stroke", "#000").attr("stroke-width", 4.5);
svg.append("text").attr("x", 1588).attr("y", 768)
  .attr("font-family", "'DejaVu Sans', sans-serif").attr("font-weight", "bold")
  .attr("font-size", 48).text("mean");

// frame and ticks
svg.append("rect").attr("x", 13).attr("y", 12).attr("width", 1775).attr("height", 815)
  .attr("fill", "none").attr("stroke", "#222").attr("stroke-width", 2);

const styleAxis = g => {
  g.select(".domain").remove();
  g.selectAll(".tick line").attr("stroke", "#000").attr("stroke-width", 4);
};
svg.append("g").attr("transform", "translate(0,827)")
  .call(d3.axisBottom(x).tickValues(xTicks).tickSize(-7).tickPadding(7).tickFormat(d3.format("d")))
  .call(styleAxis)
  .call(g => g.selectAll("text")
    .attr("font-family", "'DejaVu Sans', sans-serif").attr("font-weight", "bold")
    .attr("font-size", 40).attr("fill", "#000"));
svg.append("g").attr("transform", "translate(0,12)")
  .call(d3.axisTop(x).tickValues(xTicks).tickSize(-7).tickFormat(""))
  .call(styleAxis);
svg.append("g").attr("transform", "translate(13,0)")
  .call(d3.axisLeft(y).tickValues(yTicks).tickSize(-7).tickFormat(""))
  .call(styleAxis);
svg.append("g").attr("transform", "translate(1788,0)")
  .call(d3.axisRight(y).tickValues(yTicks).tickSize(-7).tickFormat(""))
  .call(styleAxis);
</script>
</body>
</html>
